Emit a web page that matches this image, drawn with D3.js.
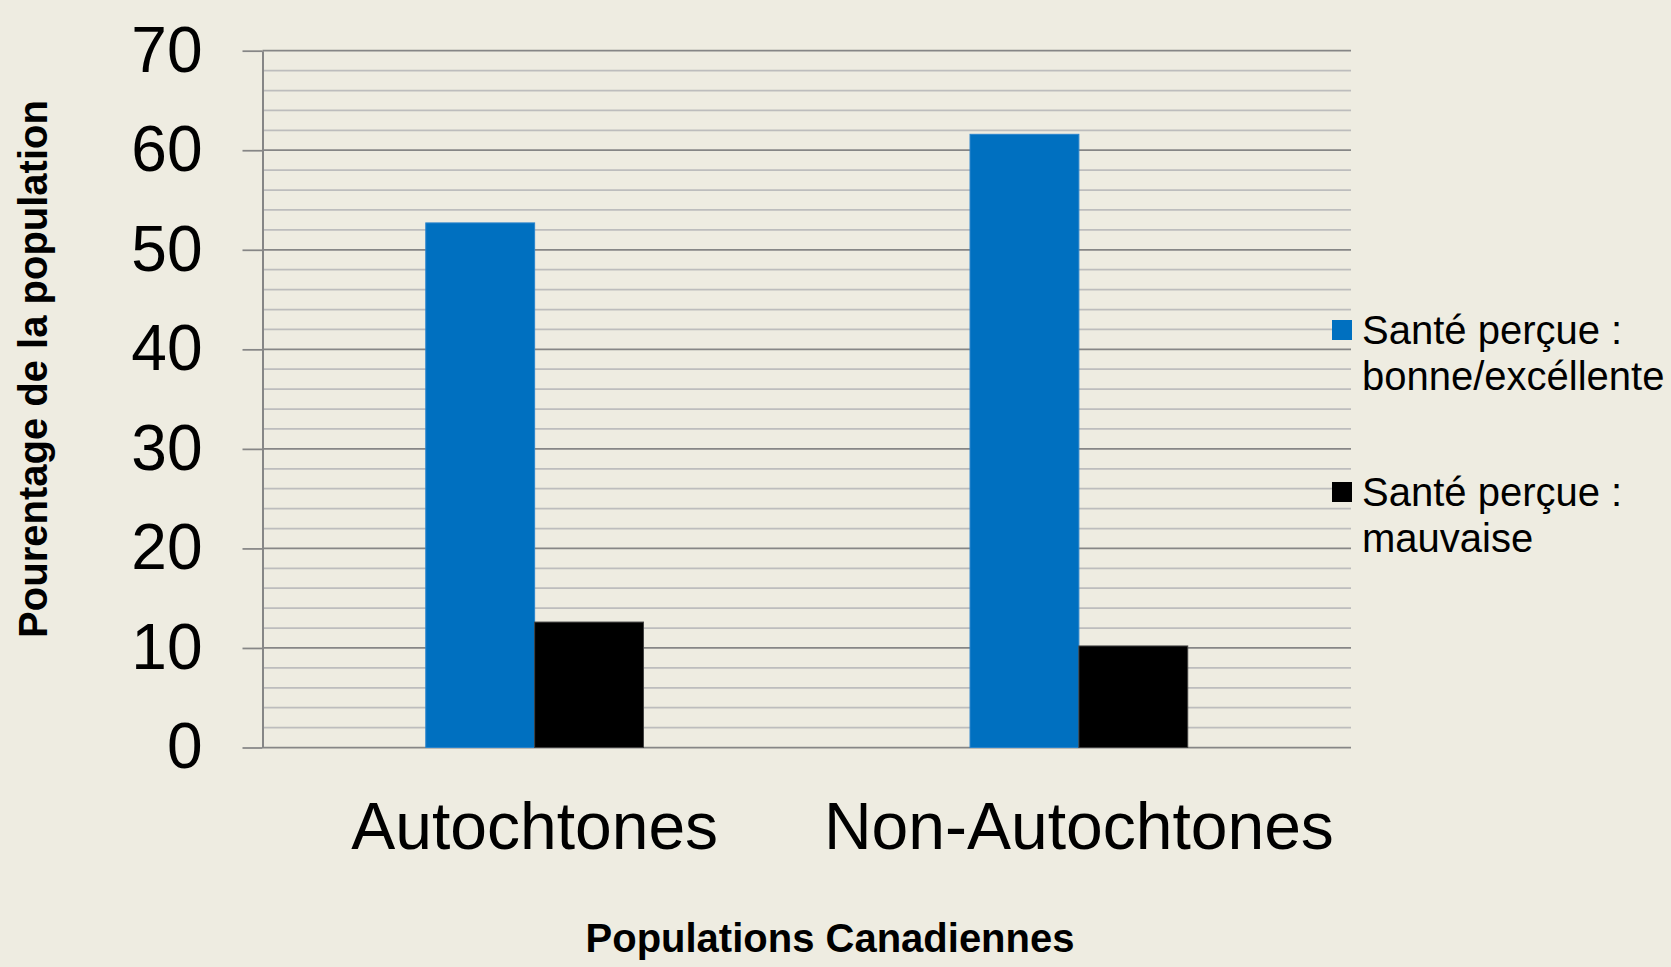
<!DOCTYPE html>
<html>
<head>
<meta charset="utf-8">
<title>Santé perçue</title>
<script src="https://d3js.org/d3.v7.min.js"></script>
<style>
  html, body { margin: 0; padding: 0; background: #EEECE1; }
  svg { display: block; font-family: Arial, "Liberation Sans", sans-serif; }
</style>
</head>
<body>
<svg id="chart"></svg>
<script>
// data
const categories = ['Autochtones', 'Non-Autochtones'];
const series = ['Santé perçue : bonne/excéllente', 'Santé perçue : mauvaise'];
const seriesLines = [['Santé perçue :', 'bonne/excéllente'], ['Santé perçue :', 'mauvaise']];
const bonne = [52.7, 61.6];
const mauvaise = [12.6, 10.2];
const colors = ['#0070C0', '#000000'];
const yTicks = [0, 10, 20, 30, 40, 50, 60, 70];
const yMinor = d3.range(0, 71, 2);

const W = 1671, H = 967;
const plotL = 262.5, plotR = 1351, plotT = 50.7, plotB = 747.5;

const svg = d3.select('#chart').attr('width', W).attr('height', H);
svg.append('rect').attr('width', W).attr('height', H).style('fill', '#EEECE1');

const y = d3.scaleLinear().domain([0, 70]).range([plotB, plotT]);
const x0 = d3.scaleBand().domain(categories).range([plotL, plotR])
  .paddingInner(0.6).paddingOuter(0.3);
const x1 = d3.scaleBand().domain(series).range([0, x0.bandwidth()]);

// minor then major gridlines
svg.append('g').selectAll('line')
  .data(yMinor.filter(v => v % 10 !== 0))
  .join('line')
  .attr('x1', plotL).attr('x2', plotR)
  .attr('y1', d => y(d)).attr('y2', d => y(d))
  .style('stroke', '#bdbdbd')
  .style('stroke-width', 1.75);

svg.append('g').selectAll('line')
  .data(yTicks)
  .join('line')
  .attr('x1', plotL).attr('x2', plotR)
  .attr('y1', d => y(d)).attr('y2', d => y(d))
  .style('stroke', '#868686')
  .style('stroke-width', 1.75);

// bars
const rows = categories.map((c, i) => ({cat: c, vals: [bonne[i], mauvaise[i]]}));
svg.append('g').selectAll('g')
  .data(rows)
  .join('g')
  .attr('transform', d => `translate(${x0(d.cat)},0)`)
  .selectAll('rect')
  .data(d => d.vals.map((v, j) => ({s: series[j], v: v, j: j})))
  .join('rect')
  .attr('x', d => x1(d.s))
  .attr('width', x1.bandwidth())
  .attr('y', d => y(d.v))
  .attr('height', d => y(0) - y(d.v))
  .style('fill', d => colors[d.j])
  .style('stroke', d => d.j === 1 ? '#404040' : '#2a84cc')
  .style('stroke-width', 1);

// y axis
const yAxis = svg.append('g')
  .attr('transform', `translate(${plotL},0)`)
  .call(d3.axisLeft(y).tickValues(yTicks).tickSize(20).tickSizeOuter(0).tickPadding(40));
yAxis.select('.domain').style('stroke', '#868686').style('stroke-width', 2);
yAxis.selectAll('.tick line').style('stroke', '#868686').style('stroke-width', 1.75);
yAxis.selectAll('.tick text')
  .style('font-size', '64px')
  .style('fill', '#000')
  .style('font-family', 'Arial, "Liberation Sans", sans-serif');

// x axis
const xAxis = svg.append('g')
  .attr('transform', `translate(0,${plotB})`)
  .call(d3.axisBottom(x0).tickSize(0).tickPadding(55));
xAxis.select('.domain').remove();
xAxis.selectAll('.tick text')
  .style('font-size', '66px')
  .style('fill', '#000')
  .style('font-family', 'Arial, "Liberation Sans", sans-serif');

// axis titles
svg.append('text')
  .attr('x', 830).attr('y', 952)
  .attr('text-anchor', 'middle')
  .style('font-size', '40px')
  .style('font-weight', 'bold')
  .text('Populations Canadiennes');

svg.append('text')
  .attr('transform', 'translate(47,369) rotate(-90)')
  .attr('text-anchor', 'middle')
  .style('font-size', '40px')
  .style('font-weight', 'bold')
  .text('Pourentage de la population');

// legend
const legend = svg.append('g').selectAll('g')
  .data(series)
  .join('g')
  .attr('transform', (d, i) => `translate(1332,${320 + i * 162})`);
legend.append('rect')
  .attr('width', 20).attr('height', 20)
  .style('fill', (d, i) => colors[i]);
legend.append('text')
  .attr('x', 30).attr('y', 24)
  .style('font-size', '40px')
  .selectAll('tspan')
  .data((d, i) => seriesLines[i])
  .join('tspan')
  .attr('x', 30)
  .attr('dy', (d, k) => k === 0 ? 0 : 46)
  .text(d => d);
</script>
</body>
</html>
